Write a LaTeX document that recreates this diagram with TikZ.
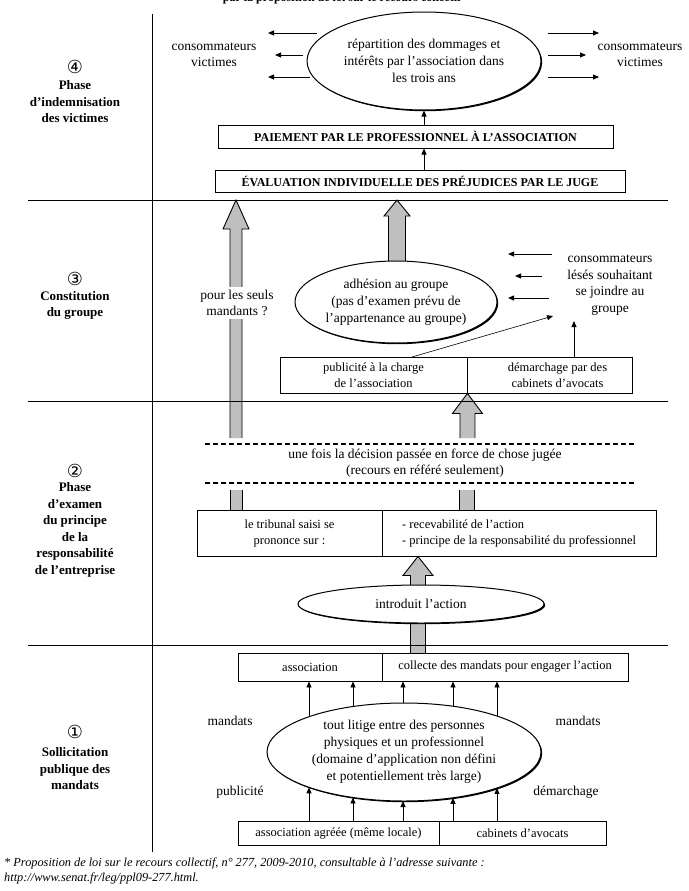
\documentclass[tikz,border=0pt]{standalone}
\usepackage{fontspec}
\setmainfont{Liberation Serif}
\newfontfamily\symfont{DejaVu Sans}
\usetikzlibrary{shapes.geometric,calc,arrows.meta,shadows}
\pgfdeclarelayer{bg}
\pgfsetlayers{bg,main}
\tikzset{
 txt/.style={font=\fontsize{13.5}{16.5}\selectfont, align=center, inner sep=0pt},
 btxt/.style={font=\fontsize{12.5}{16}\selectfont, align=center, inner sep=0pt},
 phlab/.style={font=\bfseries\fontsize{13}{16.5}\selectfont, align=center, inner sep=0pt},
 digit/.style={font=\symfont\fontsize{18}{19}\selectfont, inner sep=0pt},
 capbox/.style={draw, line width=1pt, font=\bfseries\fontsize{12}{14}\selectfont, inner sep=0pt},
 tbox/.style={draw, line width=0.9pt, inner sep=0pt, align=center, font=\fontsize{12.5}{16}\selectfont},
 ell/.style={ellipse, draw, line width=1pt, fill=white, inner sep=0pt, align=center,
   font=\fontsize{13.5}{17}\selectfont,
   drop shadow={shadow xshift=1.2pt, shadow yshift=-1.2pt, opacity=1, fill=black}},
 arr/.style={-{Triangle[length=6pt,width=5pt]}, line width=0.8pt},
 blkfill/.style={fill=black!25},
 blkline/.style={line width=0.9pt},
 dashline/.style={line width=2pt, dash pattern=on 5pt off 3pt},
 rule/.style={line width=0.9pt},
}
\newcommand\blockarr[5]{%
 \fill[blkfill] let \p1=#1, \p2=#2 in (\x2-#3pt,\y1) -- (\x2-#3pt,\y2-#5pt) -- (\x2-#4pt,\y2-#5pt) -- (\x2,\y2) -- (\x2+#4pt,\y2-#5pt) -- (\x2+#3pt,\y2-#5pt) -- (\x2+#3pt,\y1) -- cycle;
 \draw[blkline] let \p1=#1, \p2=#2 in (\x2-#3pt,\y1) -- (\x2-#3pt,\y2-#5pt) -- (\x2-#4pt,\y2-#5pt) -- (\x2,\y2) -- (\x2+#4pt,\y2-#5pt) -- (\x2+#3pt,\y2-#5pt) -- (\x2+#3pt,\y1);}
\newcommand\shaftseg[3]{%
 \fill[blkfill] let \p1=#1, \p2=#2 in (\x1-#3pt,\y1) rectangle (\x1+#3pt,\y2);
 \draw[blkline] let \p1=#1, \p2=#2 in (\x1-#3pt,\y1) -- (\x1-#3pt,\y2) (\x1+#3pt,\y1) -- (\x1+#3pt,\y2);}
\begin{document}
\begin{tikzpicture}[x=1pt,y=-1pt]
\useasboundingbox (0,0) rectangle (688,891);
\clip (0,0) rectangle (688,891);

% ---------- title (cut off at the top) ----------
\node[anchor=base, font=\bfseries\fontsize{12}{14}\selectfont, inner sep=0pt] (title) at (345,1.5) {par la proposition de loi sur le recours collectif*};

% ---------- phase labels ----------
\node[digit] (d4) at (75,67) {④};
\node[phlab] (l4) at (75,102) {Phase\\d’indemnisation\\des victimes};
\node[digit] (d3) at (75,279) {③};
\node[phlab] (l3) at (75,305.5) {Constitution\\du groupe};
\node[digit] (d2) at (75,471) {②};
\node[phlab] (l2) at (75,530) {Phase\\d’examen\\du principe\\de la\\responsabilité\\de l’entreprise};
\node[digit] (d1) at (75,732) {①};
\node[phlab] (l1) at (75,769) {Sollicitation\\publique des\\mandats};

% ---------- phase 4 ----------
\node[ell, minimum width=234pt, minimum height=98pt] (E4) at (424,61) {répartition des dommages et\\intérêts par l’association dans\\les trois ans};
\node[txt] (cvL) at (214,55) {consommateurs\\victimes};
\node[txt] (cvR) at (640,55) {consommateurs\\victimes};
\node[capbox, minimum width=395pt, minimum height=23pt] (pay) at (415.5,136.5) {PAIEMENT PAR LE PROFESSIONNEL À L’ASSOCIATION};
\node[capbox, minimum width=410pt, minimum height=22pt] (eval) at (420,181) {ÉVALUATION INDIVIDUELLE DES PRÉJUDICES PAR LE JUGE};
\coordinate (a41s) at (317,33); \coordinate (a41e) at (268,33);
\coordinate (a42s) at (303,55); \coordinate (a42e) at (275,55);
\coordinate (a43s) at (310,77); \coordinate (a43e) at (268,77);
\coordinate (b41s) at (548,33); \coordinate (b41e) at (599,33);
\coordinate (b42s) at (548,55); \coordinate (b42e) at (586,55);
\coordinate (b43s) at (548,77); \coordinate (b43e) at (599,77);
\draw[arr] (a41s) -- (a41e); \draw[arr] (a42s) -- (a42e); \draw[arr] (a43s) -- (a43e);
\draw[arr] (b41s) -- (b41e); \draw[arr] (b42s) -- (b42e); \draw[arr] (b43s) -- (b43e);
\draw[arr] (pay.north -| E4.south) -- (E4.south);
\draw[arr] (eval.north -| E4.south) -- (pay.south -| E4.south);

% ---------- phase 3 ----------
\node[ell, minimum width=202pt, minimum height=82pt] (E3) at (396,302) {adhésion au groupe\\(pas d’examen prévu de\\l’appartenance au groupe)};
\node[txt] (cls) at (610,285) {consommateurs\\lésés souhaitant\\se joindre au\\groupe};
\node[txt, fill=white, inner sep=3pt] (psm) at (237,303) {pour les seuls\\mandants ?};
\node[tbox, minimum width=187pt, minimum height=36pt] (pubL) at (373.5,375) {publicité à la charge\\de l’association};
\node[tbox, minimum width=165pt, minimum height=36pt] (pubR) at (549.5,375) {\hspace*{16pt}démarchage par des\\\hspace*{16pt}cabinets d’avocats};
\coordinate (c31s) at (552,254); \coordinate (c31e) at (508,254);
\coordinate (c32s) at (542,276); \coordinate (c32e) at (515,276);
\coordinate (c33s) at (549,298); \coordinate (c33e) at (508,298);
\draw[arr] (c31s) -- (c31e); \draw[arr] (c32s) -- (c32e); \draw[arr] (c33s) -- (c33e);
\coordinate (dgS) at (412,357); \coordinate (dgE) at (553,316);
\draw[arr, line width=0.6pt] (dgS) -- (dgE);
\coordinate (vS) at (574,357); \coordinate (vE) at (574,321);
\draw[arr] (vS) -- (vE);

% ---------- phase 2 ----------
\coordinate (dl1a) at (205,444); \coordinate (dl1b) at (636,444);
\coordinate (dl2a) at (205,483); \coordinate (dl2b) at (636,483);
\draw[dashline] (dl1a) -- (dl1b);
\draw[dashline] (dl2a) -- (dl2b);
\node[txt] (band) at (425,463) {une fois la décision passée en force de chose jugée\\(recours en référé seulement)};
\node[tbox, minimum width=185pt, minimum height=46pt] (trL) at (289.5,533) {le tribunal saisi se\\prononce sur :};
\node[tbox, minimum width=274pt, minimum height=46pt] (trR) at (519,533) {};
\node[btxt, align=left, anchor=west] (trRt) at (402,533) {- recevabilité de l’action\\- principe de la responsabilité du professionnel};
\node[ell, minimum width=246pt, minimum height=38pt] (E2) at (421,604) {introduit l’action};

% ---------- phase 1 ----------
\node[tbox, minimum width=144pt, minimum height=28pt] (aL) at (310,667) {association};
\node[tbox, minimum width=246pt, minimum height=28pt] (aR) at (505,667) {collecte des mandats pour engager l’action};
\node[ell, minimum width=274pt, minimum height=98pt] (E1) at (404,752) {tout litige entre des personnes\\physiques et un professionnel\\(domaine d’application non défini\\et potentiellement très large)};
\node[tbox, minimum width=201pt, minimum height=24pt] (bL) at (338.5,833) {association agréée (même locale)};
\node[tbox, minimum width=167pt, minimum height=24pt] (bR) at (522.5,833) {cabinets d’avocats};
\node[txt] (mL) at (230,721) {mandats};
\node[txt] (mR) at (578,721) {mandats};
\node[txt] (pubLab) at (240,792) {publicité};
\node[txt] (demLab) at (566,792) {démarchage};
\foreach \xx in {309,353,403,453,497}{
  \pgfmathsetmacro\ytop{752-49*sqrt(1-((\xx-404)/137)^2)}
  \pgfmathsetmacro\ybot{752+49*sqrt(1-((\xx-404)/137)^2)}
  \draw[arr] (\xx,\ytop) -- (\xx,\ytop |- aL.south);
  \draw[arr] (\xx,\ybot |- bL.north) -- (\xx,\ybot);
}

% ---------- footer ----------
\node[anchor=base west, inner sep=0pt, font=\itshape\fontsize{12.3}{14}\selectfont] (fn1) at (4,866) {* Proposition de loi sur le recours collectif, n° 277, 2009-2010, consultable à l’adresse suivante :};
\node[anchor=base west, inner sep=0pt, font=\itshape\fontsize{12.3}{14}\selectfont] (fn2) at (4,881) {http://www.senat.fr/leg/ppl09-277.html.};

% ---------- background layer: block arrows and rules ----------
\begin{pgfonlayer}{bg}
\fill[white] (0,0) rectangle (688,891);
\coordinate (lbS) at (236,438); \coordinate (lbT) at (236,200);
\blockarr{(lbS)}{(lbT)}{6}{13}{29}
\coordinate (lbL) at (236,490);
\shaftseg{(lbL)}{(lbL |- trL.north)}{6}
\coordinate (c3S) at (397,270); \coordinate (c3T) at (397,200);
\blockarr{(c3S)}{(c3T)}{8.5}{13}{16}
\coordinate (c2S) at (467,438);
\blockarr{(c2S)}{(pubL.south east)}{7.5}{15}{20}
\coordinate (c2L) at (467,490);
\shaftseg{(c2L)}{(c2L |- trR.north)}{7.5}
\coordinate (iS) at (418,653);
\blockarr{(iS)}{(iS |- trR.south)}{7.5}{15}{19}
\coordinate (vt) at (152,14); \coordinate (vb) at (152,852);
\draw[rule] (vt) -- (vb);
\coordinate (h1a) at (28,200); \coordinate (h1b) at (668,200);
\coordinate (h2a) at (28,401); \coordinate (h2b) at (668,401);
\coordinate (h3a) at (28,645); \coordinate (h3b) at (668,645);
\draw[rule] (h1a) -- (h1b);
\draw[rule] (h2a) -- (h2b);
\draw[rule] (h3a) -- (h3b);
\end{pgfonlayer}
\end{tikzpicture}
\end{document}
